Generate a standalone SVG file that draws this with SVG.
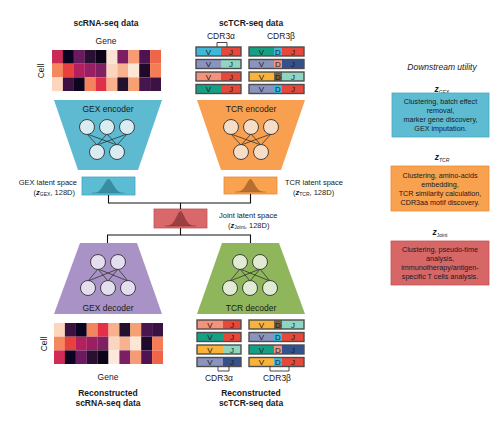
<svg xmlns="http://www.w3.org/2000/svg" width="499" height="424" viewBox="0 0 499 424">
<style>
text{font-family:"Liberation Sans",Arial,sans-serif;fill:#1a1a1a}
.title{font-size:8.5px;font-weight:bold;text-anchor:middle}
.lbl{font-size:8.5px;text-anchor:middle}
.net{font-size:8.5px;text-anchor:middle}
.small{font-size:7.5px}
.util{font-size:7.2px;text-anchor:middle}
.seg{font-size:8px;text-anchor:middle}
.nd{stroke:#333;stroke-width:0.9}
.ed{stroke:#222;stroke-width:0.7}
.row{fill:none;stroke:#4d4d4d;stroke-width:1.4}
.conn{fill:none;stroke:#111;stroke-width:1.1}
.brk{fill:none;stroke:#333;stroke-width:0.9}
.z{font-weight:bold;font-style:italic}
</style>

<!-- Titles -->
<text class="title" x="106" y="26">scRNA-seq data</text>
<text class="title" x="251" y="26">scTCR-seq data</text>

<!-- Top heatmap -->
<g id="heatmap-input">
<text class="lbl" x="106" y="44">Gene</text>
<text class="lbl" transform="translate(44,71) rotate(-90)">Cell</text>
<g>
<rect x="52" y="50" width="11" height="13.7" fill="#c92a56"/>
<rect x="62.9" y="50" width="11" height="13.7" fill="#0b0420"/>
<rect x="73.8" y="50" width="11" height="13.7" fill="#6a1a5e"/>
<rect x="84.7" y="50" width="11" height="13.7" fill="#2a0f33"/>
<rect x="95.6" y="50" width="11" height="13.7" fill="#0e0419"/>
<rect x="106.5" y="50" width="11" height="13.7" fill="#fbe4d2"/>
<rect x="117.4" y="50" width="11" height="13.7" fill="#7c1f62"/>
<rect x="128.3" y="50" width="11" height="13.7" fill="#f89b75"/>
<rect x="139.2" y="50" width="11" height="13.7" fill="#4d1451"/>
<rect x="150.1" y="50" width="10.9" height="13.7" fill="#f0654a"/>
<rect x="52" y="63.7" width="11" height="13.7" fill="#f4875e"/>
<rect x="62.9" y="63.7" width="11" height="13.7" fill="#e8403f"/>
<rect x="73.8" y="63.7" width="11" height="13.7" fill="#b3205e"/>
<rect x="84.7" y="63.7" width="11" height="13.7" fill="#9a1f62"/>
<rect x="95.6" y="63.7" width="11" height="13.7" fill="#7e2061"/>
<rect x="106.5" y="63.7" width="11" height="13.7" fill="#fbd6bf"/>
<rect x="117.4" y="63.7" width="11" height="13.7" fill="#f9b28f"/>
<rect x="128.3" y="63.7" width="11" height="13.7" fill="#fde6d6"/>
<rect x="139.2" y="63.7" width="11" height="13.7" fill="#1f0a2e"/>
<rect x="150.1" y="63.7" width="10.9" height="13.7" fill="#f47d55"/>
<rect x="52" y="77.4" width="11" height="13.6" fill="#fbd5bd"/>
<rect x="62.9" y="77.4" width="11" height="13.6" fill="#3a1140"/>
<rect x="73.8" y="77.4" width="11" height="13.6" fill="#0d0420"/>
<rect x="84.7" y="77.4" width="11" height="13.6" fill="#f4825c"/>
<rect x="95.6" y="77.4" width="11" height="13.6" fill="#e03048"/>
<rect x="106.5" y="77.4" width="11" height="13.6" fill="#f8b08d"/>
<rect x="117.4" y="77.4" width="11" height="13.6" fill="#22102f"/>
<rect x="128.3" y="77.4" width="11" height="13.6" fill="#f7a072"/>
<rect x="139.2" y="77.4" width="11" height="13.6" fill="#461550"/>
<rect x="150.1" y="77.4" width="10.9" height="13.6" fill="#3a1342"/>
</g>
</g>

<!-- Top TCR data -->
<g id="tcr-input">
<text class="lbl" x="221" y="39">CDR3α</text>
<text class="lbl" x="281" y="39">CDR3β</text>
<path class="brk" d="M217,47 V42.5 H227 V47"/>
<!-- alpha rows -->
<rect x="196" y="47" width="25" height="9" fill="#3fb8d8"/><rect x="221" y="47" width="20" height="9" fill="#e8483a"/>
<rect x="196" y="59.5" width="25" height="9" fill="#8b93bf"/><rect x="221" y="59.5" width="20" height="9" fill="#90d4c2"/>
<rect x="196" y="72" width="25" height="9" fill="#f4927b"/><rect x="221" y="72" width="20" height="9" fill="#e8483a"/>
<rect x="196" y="84.5" width="25" height="9" fill="#14a085"/><rect x="221" y="84.5" width="20" height="9" fill="#e8483a"/>
<rect class="row" x="196" y="47" width="45" height="9"/>
<rect class="row" x="196" y="59.5" width="45" height="9"/>
<rect class="row" x="196" y="72" width="45" height="9"/>
<rect class="row" x="196" y="84.5" width="45" height="9"/>
<text class="seg" x="208.5" y="54.8">V</text><text class="seg" x="231" y="54.8">J</text>
<text class="seg" x="208.5" y="67.3">V</text><text class="seg" x="231" y="67.3">J</text>
<text class="seg" x="208.5" y="79.8">V</text><text class="seg" x="231" y="79.8">J</text>
<text class="seg" x="208.5" y="92.3">V</text><text class="seg" x="231" y="92.3">J</text>
<!-- beta rows -->
<rect x="249" y="47" width="25" height="9" fill="#14a085"/><rect x="274" y="47" width="8" height="9" fill="#3fb8d8"/><rect x="282" y="47" width="22" height="9" fill="#e8483a"/>
<rect x="249" y="59.5" width="25" height="9" fill="#8b93bf"/><rect x="274" y="59.5" width="8" height="9" fill="#f4927b"/><rect x="282" y="59.5" width="22" height="9" fill="#34508d"/>
<rect x="249" y="72" width="25" height="9" fill="#f9b23a"/><rect x="274" y="72" width="8" height="9" fill="#7a5c3e"/><rect x="282" y="72" width="22" height="9" fill="#90d4c2"/>
<rect x="249" y="84.5" width="25" height="9" fill="#8b93bf"/><rect x="274" y="84.5" width="8" height="9" fill="#3fb8d8"/><rect x="282" y="84.5" width="22" height="9" fill="#e8483a"/>
<rect class="row" x="249" y="47" width="55" height="9"/>
<rect class="row" x="249" y="59.5" width="55" height="9"/>
<rect class="row" x="249" y="72" width="55" height="9"/>
<rect class="row" x="249" y="84.5" width="55" height="9"/>
<text class="seg" x="261.5" y="54.8">V</text><text class="seg" x="278" y="54.8">D</text><text class="seg" x="293" y="54.8">J</text>
<text class="seg" x="261.5" y="67.3">V</text><text class="seg" x="278" y="67.3">D</text><text class="seg" x="293" y="67.3">J</text>
<text class="seg" x="261.5" y="79.8">V</text><text class="seg" x="278" y="79.8">D</text><text class="seg" x="293" y="79.8">J</text>
<text class="seg" x="261.5" y="92.3">V</text><text class="seg" x="278" y="92.3">D</text><text class="seg" x="293" y="92.3">J</text>
</g>

<!-- GEX encoder -->
<g id="gex-encoder">
<path d="M54,100 H162 L138,170 H78 Z" fill="#5dbad1"/>
<text class="net" x="108" y="112">GEX encoder</text>
<g class="ed">
<line x1="87" y1="134" x2="97" y2="145"/><line x1="87" y1="134" x2="117" y2="145"/>
<line x1="107" y1="134" x2="97" y2="145"/><line x1="107" y1="134" x2="117" y2="145"/>
<line x1="127" y1="134" x2="97" y2="145"/><line x1="127" y1="134" x2="117" y2="145"/>
</g>
<g class="nd" fill="#d8ecf1">
<circle cx="87" cy="127" r="7.5"/><circle cx="107" cy="127" r="7.5"/><circle cx="127" cy="127" r="7.5"/>
<circle cx="97" cy="152" r="7.5"/><circle cx="117" cy="152" r="7.5"/>
</g>
</g>

<!-- TCR encoder -->
<g id="tcr-encoder">
<path d="M197,100 H305 L281,170 H221 Z" fill="#f8a050"/>
<text class="net" x="251" y="112">TCR encoder</text>
<g class="ed">
<line x1="231" y1="134" x2="241" y2="145"/><line x1="231" y1="134" x2="261" y2="145"/>
<line x1="251" y1="134" x2="241" y2="145"/><line x1="251" y1="134" x2="261" y2="145"/>
<line x1="271" y1="134" x2="241" y2="145"/><line x1="271" y1="134" x2="261" y2="145"/>
</g>
<g class="nd" fill="#f7dcc6">
<circle cx="231" cy="127" r="7.5"/><circle cx="251" cy="127" r="7.5"/><circle cx="271" cy="127" r="7.5"/>
<circle cx="241" cy="152" r="7.5"/><circle cx="261" cy="152" r="7.5"/>
</g>
</g>

<!-- Latent spaces -->
<g id="gex-latent">
<rect x="82" y="177" width="53" height="18" fill="#5cbcd4" stroke="#43a8c2" stroke-width="0.8"/>
<path d="M94,193 C102,193 105,179 108.5,179 C112,179 115,193 123,193 Z" fill="#2e7d8f" fill-opacity="0.75"/>
<line x1="92" y1="193" x2="125" y2="193" stroke="#2e7d8f" stroke-width="0.5"/>
<text class="small" x="77" y="184.5" text-anchor="end">GEX latent space</text>
<text class="small" x="75" y="194.5" text-anchor="end">(<tspan class="z">z</tspan><tspan font-size="5" dy="1.5">GEX</tspan><tspan dy="-1.5">, 128D)</tspan></text>
</g>

<g id="tcr-latent">
<rect x="224" y="177" width="53" height="17" fill="#f9a24f" stroke="#ef8a33" stroke-width="0.8"/>
<path d="M237,192 C245,192 247.5,179 250.5,179 C253.5,179 256,192 264,192 Z" fill="#9a5a23" fill-opacity="0.7"/>
<line x1="235" y1="192" x2="266" y2="192" stroke="#9a5a23" stroke-width="0.5"/>
<text class="small" x="285" y="184.5">TCR latent space</text>
<text class="small" x="293" y="194.5">(<tspan class="z">z</tspan><tspan font-size="5" dy="1.5">TCR</tspan><tspan dy="-1.5">, 128D)</tspan></text>
</g>

<g id="joint-latent">
<rect x="154" y="209" width="53" height="19" fill="#d8686a" stroke="#c45357" stroke-width="0.8"/>
<path d="M167,226 C175,226 177.5,211 180.5,211 C183.5,211 186,226 194,226 Z" fill="#7c2a2c" fill-opacity="0.65"/>
<line x1="165" y1="226" x2="196" y2="226" stroke="#7c2a2c" stroke-width="0.5"/>
<text class="small" x="219" y="217.5">Joint latent space</text>
<text class="small" x="228" y="227.5">(<tspan class="z">z</tspan><tspan font-size="5" dy="1.5">Joint</tspan><tspan dy="-1.5">, 128D)</tspan></text>
</g>

<!-- Connectors -->
<g id="connectors">
<path class="conn" d="M108.5,195 V203 H250.5 V194"/>
<path class="conn" d="M180.5,203 V209"/>
<path class="conn" d="M180.5,228 V235"/>
<path class="conn" d="M107.5,243 V235 H250.5 V243"/>
</g>

<!-- GEX decoder -->
<g id="gex-decoder">
<path d="M80,243 H137 L162,314 H54 Z" fill="#a993c6"/>
<text class="net" x="108" y="311">GEX decoder</text>
<g class="ed">
<line x1="98" y1="269" x2="88" y2="281"/><line x1="98" y1="269" x2="108" y2="281"/><line x1="98" y1="269" x2="128" y2="281"/>
<line x1="118" y1="269" x2="88" y2="281"/><line x1="118" y1="269" x2="108" y2="281"/><line x1="118" y1="269" x2="128" y2="281"/>
</g>
<g class="nd" fill="#e4deee">
<circle cx="98" cy="262" r="7.5"/><circle cx="118" cy="262" r="7.5"/>
<circle cx="88" cy="288" r="7.5"/><circle cx="108" cy="288" r="7.5"/><circle cx="128" cy="288" r="7.5"/>
</g>
</g>

<!-- TCR decoder -->
<g id="tcr-decoder">
<path d="M222,243 H279 L305,314 H197 Z" fill="#8fb65a"/>
<text class="net" x="251" y="311">TCR decoder</text>
<g class="ed">
<line x1="240" y1="269" x2="230" y2="281"/><line x1="240" y1="269" x2="250" y2="281"/><line x1="240" y1="269" x2="270" y2="281"/>
<line x1="260" y1="269" x2="230" y2="281"/><line x1="260" y1="269" x2="250" y2="281"/><line x1="260" y1="269" x2="270" y2="281"/>
</g>
<g class="nd" fill="#e1ebd3">
<circle cx="240" cy="262" r="7.5"/><circle cx="260" cy="262" r="7.5"/>
<circle cx="230" cy="288" r="7.5"/><circle cx="250" cy="288" r="7.5"/><circle cx="270" cy="288" r="7.5"/>
</g>
</g>

<!-- Reconstructed heatmap -->
<g id="heatmap-output">
<text class="lbl" transform="translate(47,344) rotate(-90)">Cell</text>
<text class="lbl" x="108" y="380">Gene</text>
<g>
<rect x="54" y="323" width="11" height="13.7" fill="#fbd6bd"/>
<rect x="64.9" y="323" width="11" height="13.7" fill="#3a1140"/>
<rect x="75.8" y="323" width="11" height="13.7" fill="#0d0420"/>
<rect x="86.7" y="323" width="11" height="13.7" fill="#f4845e"/>
<rect x="97.6" y="323" width="11" height="13.7" fill="#e33048"/>
<rect x="108.5" y="323" width="11" height="13.7" fill="#f9b08d"/>
<rect x="119.4" y="323" width="11" height="13.7" fill="#22102f"/>
<rect x="130.3" y="323" width="11" height="13.7" fill="#f7a072"/>
<rect x="141.2" y="323" width="11" height="13.7" fill="#4a1650"/>
<rect x="152.1" y="323" width="10.9" height="13.7" fill="#3a1342"/>
<rect x="54" y="336.7" width="11" height="13.7" fill="#f4875e"/>
<rect x="64.9" y="336.7" width="11" height="13.7" fill="#e8403f"/>
<rect x="75.8" y="336.7" width="11" height="13.7" fill="#b3205e"/>
<rect x="86.7" y="336.7" width="11" height="13.7" fill="#9a1f62"/>
<rect x="97.6" y="336.7" width="11" height="13.7" fill="#7e2061"/>
<rect x="108.5" y="336.7" width="11" height="13.7" fill="#fbd6bf"/>
<rect x="119.4" y="336.7" width="11" height="13.7" fill="#f9b28f"/>
<rect x="130.3" y="336.7" width="11" height="13.7" fill="#fde6d6"/>
<rect x="141.2" y="336.7" width="11" height="13.7" fill="#1f0a2e"/>
<rect x="152.1" y="336.7" width="10.9" height="13.7" fill="#f47d55"/>
<rect x="54" y="350.4" width="11" height="13.6" fill="#d12a55"/>
<rect x="64.9" y="350.4" width="11" height="13.6" fill="#0b0420"/>
<rect x="75.8" y="350.4" width="11" height="13.6" fill="#6a1a5e"/>
<rect x="86.7" y="350.4" width="11" height="13.6" fill="#2a0f33"/>
<rect x="97.6" y="350.4" width="11" height="13.6" fill="#0e0419"/>
<rect x="108.5" y="350.4" width="11" height="13.6" fill="#fde9da"/>
<rect x="119.4" y="350.4" width="11" height="13.6" fill="#7c1f62"/>
<rect x="130.3" y="350.4" width="11" height="13.6" fill="#f89b75"/>
<rect x="141.2" y="350.4" width="11" height="13.6" fill="#4d1451"/>
<rect x="152.1" y="350.4" width="10.9" height="13.6" fill="#f0654a"/>
</g>
<text class="title" x="108" y="396">Reconstructed</text>
<text class="title" x="108" y="406">scRNA-seq data</text>
</g>

<!-- Reconstructed TCR -->
<g id="tcr-output">
<rect x="197" y="320" width="26" height="9" fill="#f4927b"/><rect x="223" y="320" width="18" height="9" fill="#e8483a"/>
<rect x="197" y="332.5" width="26" height="9" fill="#14a085"/><rect x="223" y="332.5" width="18" height="9" fill="#e8483a"/>
<rect x="197" y="345" width="26" height="9" fill="#f9b23a"/><rect x="223" y="345" width="18" height="9" fill="#90d4c2"/>
<rect x="197" y="357.5" width="26" height="9" fill="#8b93bf"/><rect x="223" y="357.5" width="18" height="9" fill="#34508d"/>
<rect class="row" x="197" y="320" width="44" height="9"/>
<rect class="row" x="197" y="332.5" width="44" height="9"/>
<rect class="row" x="197" y="345" width="44" height="9"/>
<rect class="row" x="197" y="357.5" width="44" height="9"/>
<text class="seg" x="210" y="327.8">V</text><text class="seg" x="232" y="327.8">J</text>
<text class="seg" x="210" y="340.3">V</text><text class="seg" x="232" y="340.3">J</text>
<text class="seg" x="210" y="352.8">V</text><text class="seg" x="232" y="352.8">J</text>
<text class="seg" x="210" y="365.3">V</text><text class="seg" x="232" y="365.3">J</text>
<rect x="249" y="320" width="25" height="9" fill="#f9b23a"/><rect x="274" y="320" width="8" height="9" fill="#7a5c3e"/><rect x="282" y="320" width="22" height="9" fill="#90d4c2"/>
<rect x="249" y="332.5" width="25" height="9" fill="#8b93bf"/><rect x="274" y="332.5" width="8" height="9" fill="#3fb8d8"/><rect x="282" y="332.5" width="22" height="9" fill="#e8483a"/>
<rect x="249" y="345" width="25" height="9" fill="#14a085"/><rect x="274" y="345" width="8" height="9" fill="#f4927b"/><rect x="282" y="345" width="22" height="9" fill="#34508d"/>
<rect x="249" y="357.5" width="25" height="9" fill="#f9b23a"/><rect x="274" y="357.5" width="8" height="9" fill="#3fb8d8"/><rect x="282" y="357.5" width="22" height="9" fill="#e8483a"/>
<rect class="row" x="249" y="320" width="55" height="9"/>
<rect class="row" x="249" y="332.5" width="55" height="9"/>
<rect class="row" x="249" y="345" width="55" height="9"/>
<rect class="row" x="249" y="357.5" width="55" height="9"/>
<text class="seg" x="261.5" y="327.8">V</text><text class="seg" x="278" y="327.8">D</text><text class="seg" x="293" y="327.8">J</text>
<text class="seg" x="261.5" y="340.3">V</text><text class="seg" x="278" y="340.3">D</text><text class="seg" x="293" y="340.3">J</text>
<text class="seg" x="261.5" y="352.8">V</text><text class="seg" x="278" y="352.8">D</text><text class="seg" x="293" y="352.8">J</text>
<text class="seg" x="261.5" y="365.3">V</text><text class="seg" x="278" y="365.3">D</text><text class="seg" x="293" y="365.3">J</text>
<path class="brk" d="M218,366.5 V371 H229 V366.5"/>
<path class="brk" d="M270,366.5 V371 H289 V366.5"/>
<text class="lbl" x="219" y="381">CDR3α</text>
<text class="lbl" x="277" y="381">CDR3β</text>
<text class="title" x="251" y="396">Reconstructed</text>
<text class="title" x="251" y="406">scTCR-seq data</text>
</g>

<!-- Downstream utility -->
<g id="utility">
<text x="442" y="70" font-size="8.5" font-style="italic" text-anchor="middle">Downstream utility</text>
<g id="util-gex">
<text x="442" y="92" text-anchor="middle"><tspan class="z" font-size="8.5">z</tspan><tspan font-size="5" dy="1.5">GEX</tspan></text>
<rect x="392" y="93" width="97" height="44" fill="#5dbcd2" stroke="#49a9c0" stroke-width="0.8"/>
<text class="util" x="440.5" y="104">Clustering, batch effect</text>
<text class="util" x="440.5" y="113">removal,</text>
<text class="util" x="440.5" y="122">marker gene discovery,</text>
<text class="util" x="440.5" y="131">GEX imputation.</text>
</g>
<g id="util-tcr">
<text x="442" y="160" text-anchor="middle"><tspan class="z" font-size="8.5">z</tspan><tspan font-size="5" dy="1.5" font-style="italic">TCR</tspan></text>
<rect x="391" y="166" width="98" height="45" fill="#f8a14f" stroke="#ef8c37" stroke-width="0.8"/>
<text class="util" x="440" y="178">Clustering, amino-acids</text>
<text class="util" x="440" y="187">embedding,</text>
<text class="util" x="440" y="196">TCR similarity calculation,</text>
<text class="util" x="440" y="205">CDR3aa motif discovery.</text>
</g>
<g id="util-joint">
<text x="440" y="235" text-anchor="middle"><tspan class="z" font-size="8.5">z</tspan><tspan font-size="5" dy="1.5">Joint</tspan></text>
<rect x="391" y="241" width="98" height="44" fill="#d76667" stroke="#c55456" stroke-width="0.8"/>
<text class="util" x="440" y="252">Clustering, pseudo-time</text>
<text class="util" x="440" y="261">analysis,</text>
<text class="util" x="440" y="270">immunotherapy/antigen-</text>
<text class="util" x="440" y="279">specific T cells analysis.</text>
</g>
</g>
</svg>
